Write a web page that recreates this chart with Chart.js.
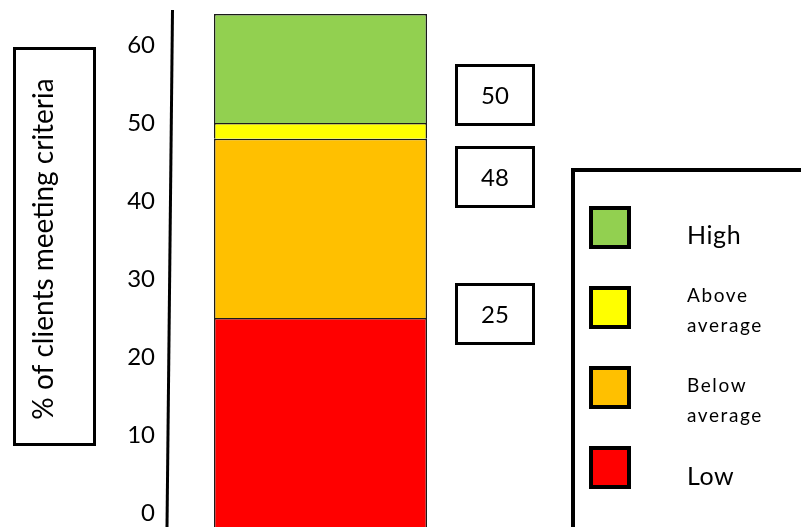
<!DOCTYPE html>
<html>
<head>
<meta charset="utf-8">
<title>Clients meeting criteria</title>
<script src="https://cdn.jsdelivr.net/npm/chart.js@4"></script>
<style>
  html, body { margin: 0; padding: 0; background: #ffffff; }
  #wrap { width: 801px; height: 527px; position: relative; }
</style>
</head>
<body>
<div id="wrap"><canvas id="criteriaChart" width="801" height="527"></canvas></div>
<script>
// Share of clients in each level, stacked bottom to top
const categories = ["Clients"];
const levelNames = ["Low", "Below average", "Above average", "High"];
const levelShares = [25, 23, 2, 14];
const levelColours = ["#FF0000", "#FFC000", "#FFFF00", "#92D050"];
const tickValues = [0, 10, 20, 30, 40, 50, 60];
const axisTitle = "% of clients meeting criteria";

const FONT = "Lato, 'Open Sans', sans-serif";
const Y_MIN = -1.8;
const Y_MAX = 64.5;

// running totals at each boundary between levels (25, 48, 50)
const boundaryTotals = [];
levelShares.slice(0, -1).reduce(function (sum, v) {
  boundaryTotals.push(sum + v);
  return sum + v;
}, 0);

// Boxed title, slanted axis line, boxed totals and the legend panel
const decorations = {
  id: "decorations",
  afterDraw(chart) {
    const ctx = chart.ctx;
    const area = chart.chartArea;
    const y = chart.scales.y;
    ctx.save();

    // axis line, drawn slightly slanted
    ctx.strokeStyle = "#000000";
    ctx.lineWidth = 3;
    ctx.beginPath();
    ctx.moveTo(area.left + 2.5, area.top);
    ctx.lineTo(area.left - 3, area.bottom);
    ctx.stroke();

    // title box
    ctx.lineWidth = 3;
    ctx.strokeRect(14.5, 48.5, 80, 396);
    ctx.save();
    ctx.translate(53, 249);
    ctx.rotate(-Math.PI / 2);
    ctx.fillStyle = "#000000";
    ctx.font = "28px " + FONT;
    ctx.textAlign = "center";
    ctx.textBaseline = "alphabetic";
    ctx.fillText(axisTitle, 0, 0);
    ctx.restore();

    // totals at each boundary, in boxes to the right of the bar
    const boxOffsets = [-4, 38, -28];
    ctx.font = "24px " + FONT;
    ctx.textAlign = "center";
    ctx.textBaseline = "middle";
    boundaryTotals.forEach(function (total, i) {
      const cy = Math.round(y.getPixelForValue(total) + boxOffsets[i]);
      ctx.lineWidth = 3;
      ctx.strokeRect(456.5, cy - 29.5, 77, 59);
      ctx.fillStyle = "#000000";
      ctx.fillText(String(total), 495, cy + 1);
    });

    // legend panel, highest level first
    ctx.lineWidth = 4;
    ctx.strokeRect(573, 170, 300, 400);
    const baselines = [[244], [302, 332], [392, 422], [485]];
    const order = levelNames.map(function (_, i) { return i; }).reverse();
    order.forEach(function (idx, row) {
      const top = 206 + row * 80;
      ctx.fillStyle = levelColours[idx];
      ctx.fillRect(589, top, 42, 43);
      ctx.lineWidth = 4;
      ctx.strokeStyle = "#000000";
      ctx.strokeRect(591, top + 2, 38, 39);

      const words = levelNames[idx].split(" ");
      const multi = words.length > 1;
      ctx.fillStyle = "#000000";
      ctx.textAlign = "left";
      ctx.textBaseline = "alphabetic";
      ctx.font = (multi ? "19px " : "25px ") + FONT;
      ctx.letterSpacing = multi ? "1.6px" : "0.6px";
      words.forEach(function (w, k) {
        ctx.fillText(w, 687, baselines[row][k]);
      });
      ctx.letterSpacing = "0px";
    });

    ctx.restore();
  },
};

new Chart(document.getElementById("criteriaChart"), {
  type: "bar",
  data: {
    labels: categories,
    datasets: levelNames.map(function (name, i) {
      return {
        label: name,
        data: [levelShares[i]],
        backgroundColor: levelColours[i],
        borderColor: "#1a1a1a",
        borderWidth: 1.5,
        // lowest level runs down to the bottom edge
        base: i === 0 ? Y_MIN : undefined,
        barPercentage: 0.708,
        categoryPercentage: 1,
      };
    }),
  },
  options: {
    responsive: false,
    animation: false,
    layout: {
      padding: { left: 0, right: 330, top: 10, bottom: 0 },
    },
    plugins: {
      legend: { display: false },
      tooltip: { enabled: false },
    },
    scales: {
      x: {
        stacked: true,
        display: false,
      },
      y: {
        stacked: true,
        min: Y_MIN,
        max: Y_MAX,
        border: { display: false },
        grid: { display: false, drawTicks: false },
        ticks: {
          color: "#000000",
          padding: 15,
          font: { family: FONT, size: 24 },
        },
        afterBuildTicks: function (scale) {
          scale.ticks = tickValues.map(function (v) { return { value: v }; });
        },
        afterFit: function (scale) {
          scale.width = 170;
          scale.paddingTop = 0;
          scale.paddingBottom = 0;
        },
      },
    },
  },
  plugins: [decorations],
});
</script>
</body>
</html>
